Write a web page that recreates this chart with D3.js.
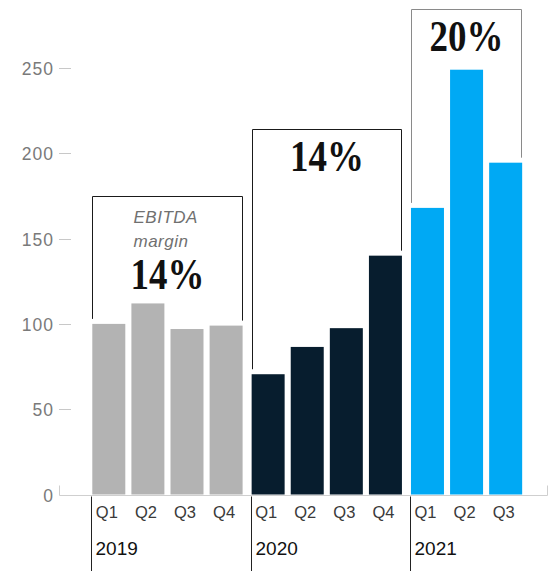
<!DOCTYPE html>
<html>
<head>
<meta charset="utf-8">
<script src="https://cdn.jsdelivr.net/npm/d3@7"></script>
<style>
  html, body { margin: 0; padding: 0; background: #fff; }
  svg { display: block; }
</style>
</head>
<body>
<svg id="chart" width="548" height="571"></svg>
<script>
// Quarterly EBITDA with yearly margin callouts
const years = ["2019", "2020", "2021"];
const quarters2019 = ["Q1", "Q2", "Q3", "Q4"];
const quarters2020 = ["Q1", "Q2", "Q3", "Q4"];
const quarters2021 = ["Q1", "Q2", "Q3"];
const values2019 = [100, 112, 97, 99];
const values2020 = [70.5, 86.5, 97.5, 140];
const values2021 = [168, 249, 194.5];
const margins = ["14%", "14%", "20%"];
const yTicks = [0, 50, 100, 150, 200, 250];
// callout box top for each year, in chart units
const calloutTops = [175, 214.5, 284.5];

const yearColors = ["#b3b3b3", "#071d2e", "#00a9f4"];
const calloutStroke = ["#1a1a1a", "#1a1a1a", "#8a8a8a"];

const quarterLists = [quarters2019, quarters2020, quarters2021];
const valueLists = [values2019, values2020, values2021];

const svg = d3.select("#chart");

// flatten into bars with a slot index; each new year adds a small extra gap
const groupGap = 0.075;
const bars = [];
let slot = 0;
years.forEach((yr, gi) => {
  quarterLists[gi].forEach((q, qi) => {
    bars.push({ year: yr, gi, qi, q, value: valueLists[gi][qi], slot: slot + gi * groupGap });
    slot++;
  });
});

const step = 39.1;
const barW = 33;
const x = d3.scaleLinear().domain([0, 1]).range([92.3, 92.3 + step]);
const y = d3.scaleLinear().domain([0, 250]).range([494.5, 68]);

// y axis: labels and short dashes
const yAxis = svg.append("g");
yTicks.forEach(t => {
  const ty = Math.round(y(t)) + 0.5;
  yAxis.append("text")
    .attr("x", 54).attr("y", ty)
    .attr("text-anchor", "end")
    .attr("dominant-baseline", "central")
    .attr("font-family", "Liberation Sans, Arial, sans-serif")
    .attr("font-size", 17.5)
    .attr("letter-spacing", "1px")
    .attr("fill", "#7a7a7a")
    .text(t);
  if (t !== 0) {
    yAxis.append("line")
      .attr("x1", 59).attr("x2", 71)
      .attr("y1", ty).attr("y2", ty)
      .attr("stroke", "#c8c8c8").attr("stroke-width", 1);
  }
});

// bars
svg.append("g").selectAll("rect")
  .data(bars)
  .join("rect")
  .attr("x", d => x(d.slot))
  .attr("width", barW)
  .attr("y", d => y(d.value))
  .attr("height", d => y(0) - y(d.value))
  .attr("fill", d => yearColors[d.gi]);

// baseline with end brackets
const by = Math.round(y(0)) + 0.5;
svg.append("path")
  .attr("d", `M59.5,${by - 10} V${by} H547.5 V${by - 10}`)
  .attr("fill", "none")
  .attr("stroke", "#cfcfcf")
  .attr("stroke-width", 1);

// callout boxes with margin figures
const lineGap = 5;
years.forEach((yr, gi) => {
  const gb = bars.filter(b => b.gi === gi);
  const first = gb[0], last = gb[gb.length - 1];
  const xl = Math.round(x(first.slot)) + 0.5;
  const xr = Math.round(x(last.slot) + barW) - 0.5;
  const top = Math.round(y(calloutTops[gi])) + 0.5;
  svg.append("path")
    .attr("d", `M${xl},${y(first.value) - lineGap} V${top} H${xr} V${y(last.value) - lineGap}`)
    .attr("fill", "none")
    .attr("stroke", calloutStroke[gi])
    .attr("stroke-width", 1);

  const cx = (xl + xr) / 2;
  let baseline = top + 42;
  if (gi === 0) {
    const lx = xl + 41;
    ["EBITDA", "margin"].forEach((s, i) => {
      svg.append("text")
        .attr("x", lx).attr("y", top + 26 + i * 24)
        .attr("font-family", "Liberation Sans, Arial, sans-serif")
        .attr("font-style", "italic")
        .attr("font-size", 17)
        .attr("letter-spacing", "0.5px")
        .attr("fill", "#707070")
        .text(s);
    });
    baseline = top + 93;
  }
  svg.append("text")
    .attr("x", cx).attr("y", baseline)
    .attr("text-anchor", "middle")
    .attr("font-family", "Liberation Serif, Times New Roman, serif")
    .attr("font-weight", "bold")
    .attr("font-size", 44)
    .attr("transform", `translate(${cx},0) scale(0.84,1) translate(${-cx},0)`)
    .attr("fill", "#111")
    .text(margins[gi]);
});

// category axis: year dividers, quarter and year labels
years.forEach((yr, gi) => {
  const gb = bars.filter(b => b.gi === gi);
  const dx = Math.round(x(gb[0].slot)) - 0.5;
  svg.append("line")
    .attr("x1", dx).attr("x2", dx)
    .attr("y1", by + 1).attr("y2", 571)
    .attr("stroke", "#222").attr("stroke-width", 1);
  svg.append("text")
    .attr("x", dx + 4).attr("y", 555)
    .attr("font-family", "Liberation Sans, Arial, sans-serif")
    .attr("font-size", 19)
    .attr("fill", "#111")
    .text(yr);
});

svg.append("g").selectAll("text")
  .data(bars)
  .join("text")
  .attr("x", d => x(d.slot) + 3.5)
  .attr("y", 518)
  .attr("font-family", "Liberation Sans, Arial, sans-serif")
  .attr("font-size", 16.5)
  .attr("fill", "#3a3a3a")
  .text(d => d.q);
</script>
</body>
</html>
